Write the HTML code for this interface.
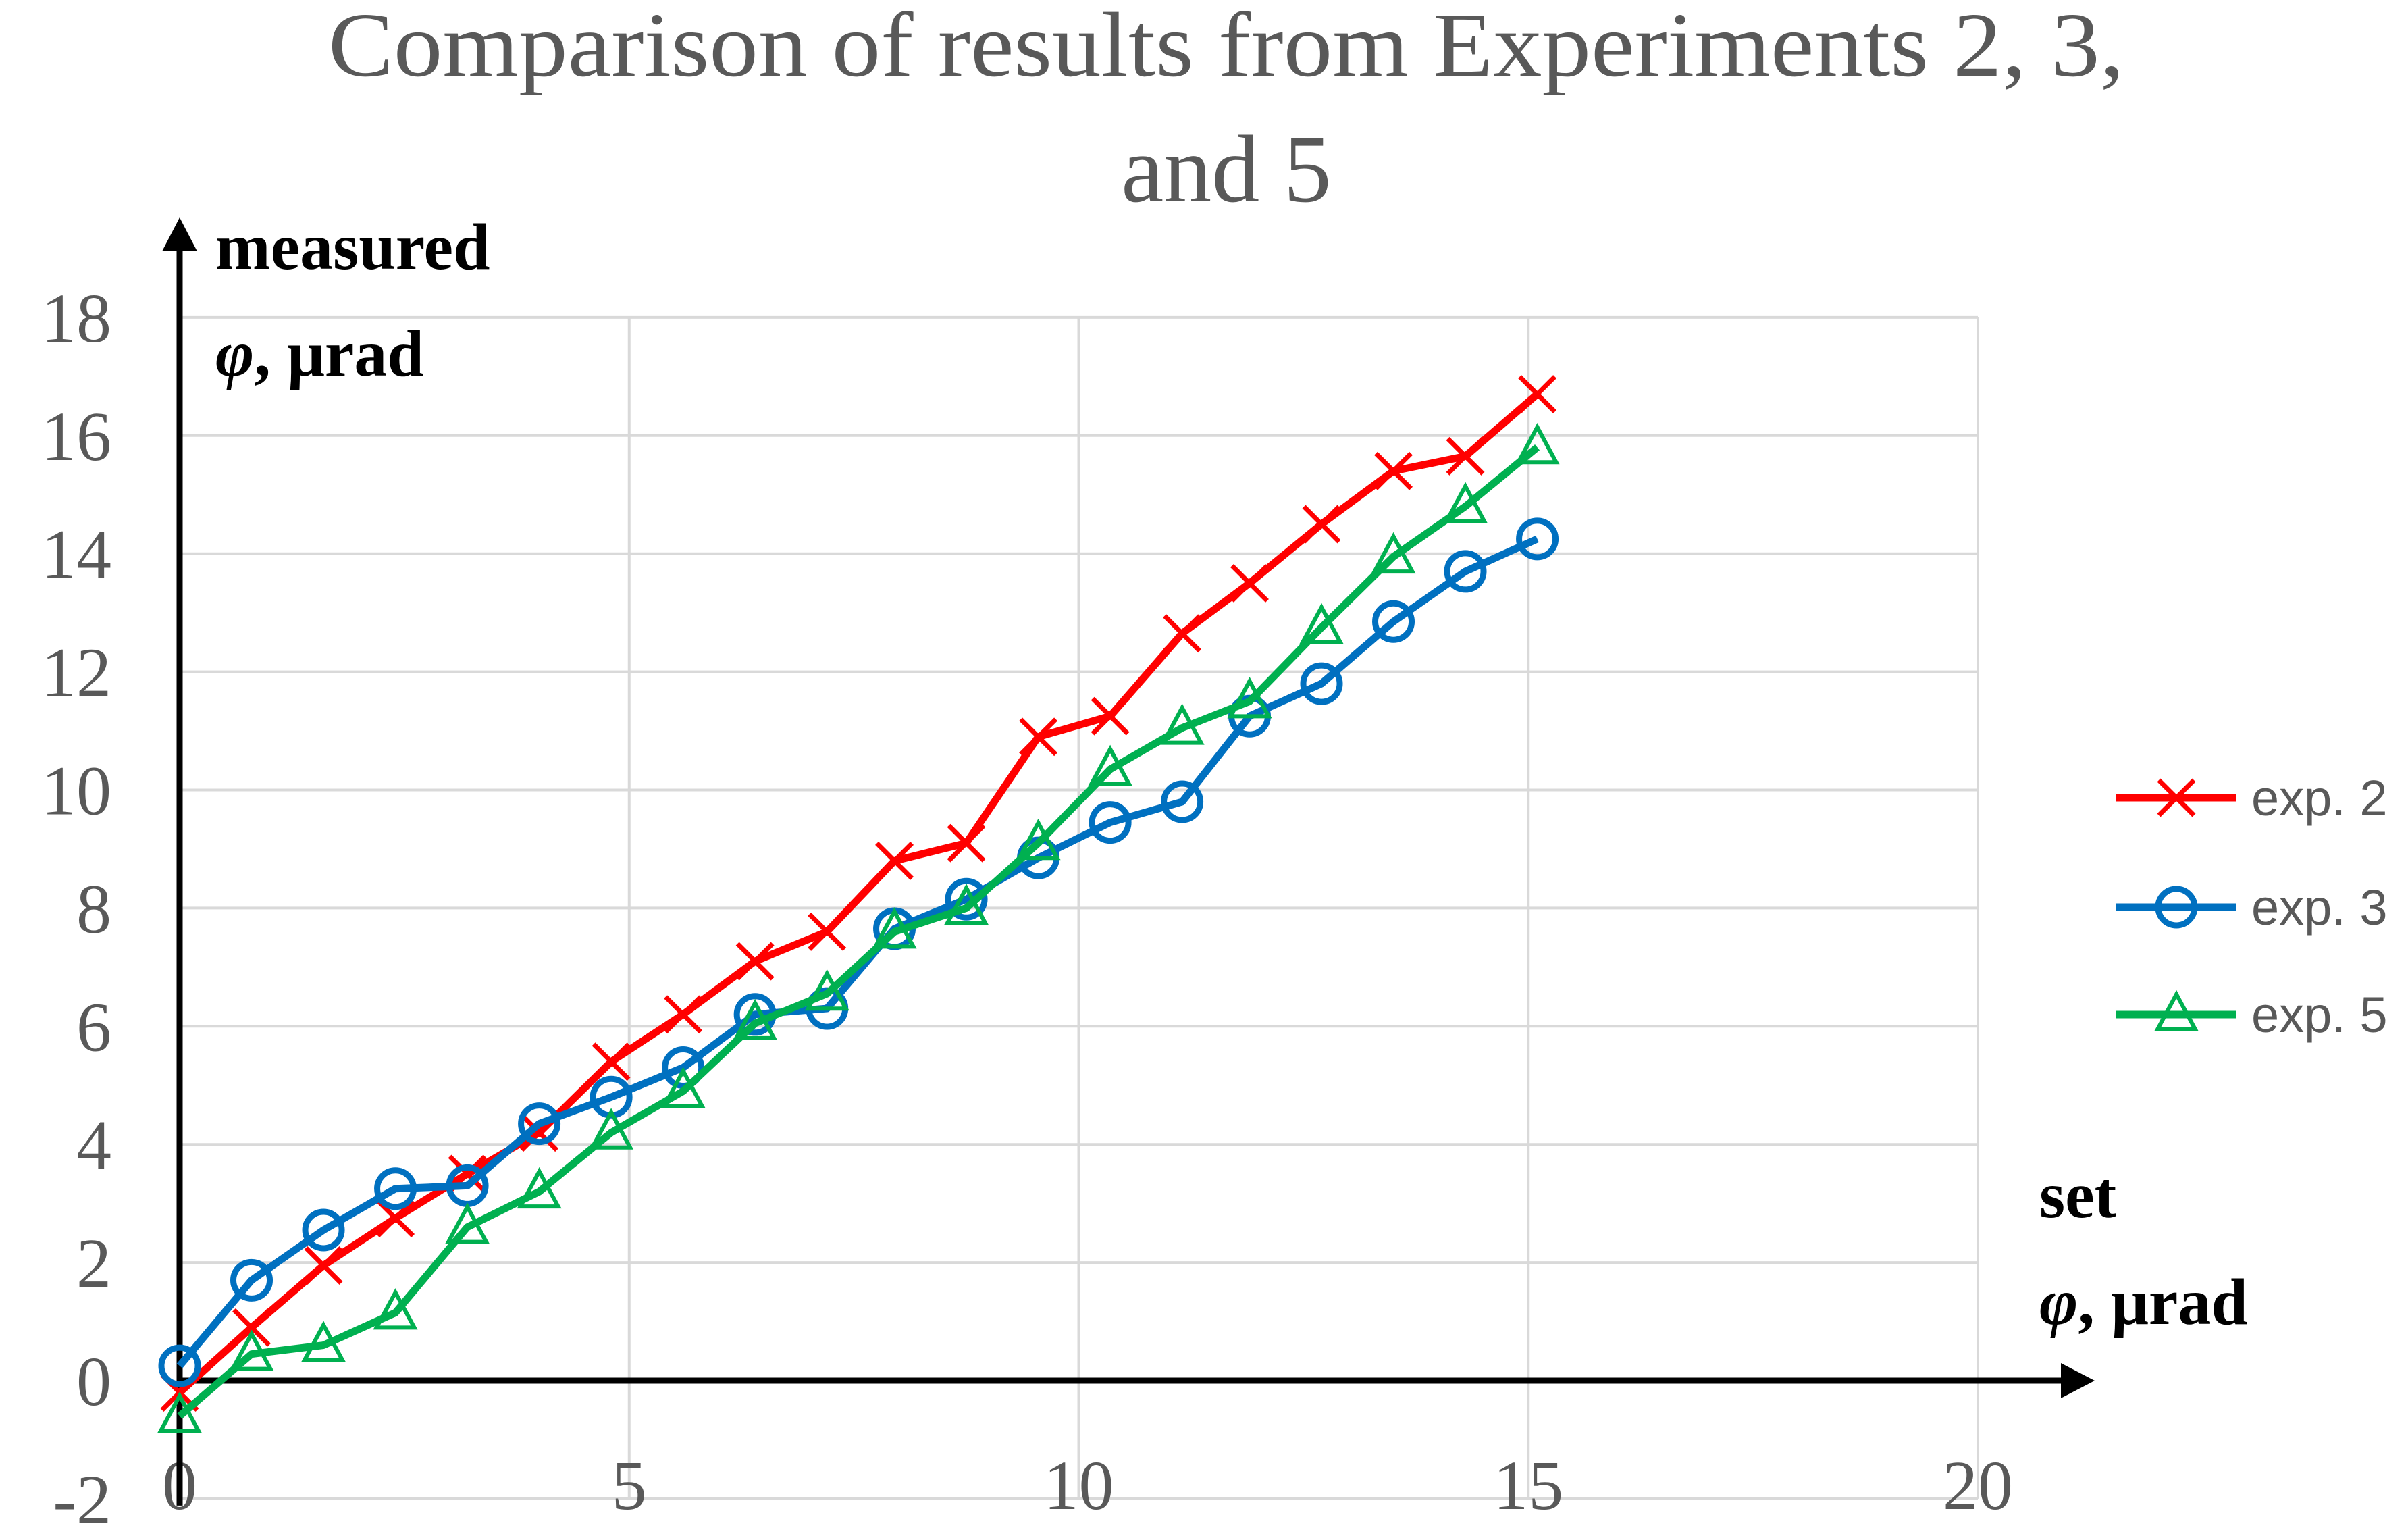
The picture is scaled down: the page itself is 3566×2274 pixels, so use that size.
<!DOCTYPE html>
<html><head><meta charset="utf-8"><style>
html,body{margin:0;padding:0;background:#fff}
svg{display:block}
</style></head><body>
<svg id="chart" width="3566" height="2274" viewBox="0 0 3566 2274" xmlns="http://www.w3.org/2000/svg">
<rect width="3566" height="2274" fill="#fff"/>
<text x="1816" y="112" text-anchor="middle" font-family="Liberation Serif, serif" font-size="136" fill="#595959" textLength="2660" lengthAdjust="spacingAndGlyphs">Comparison of results from Experiments 2, 3,</text>
<text x="1816" y="298" text-anchor="middle" font-family="Liberation Serif, serif" font-size="142" fill="#595959">and 5</text>
<g id="grid"></g>
<g id="ticks"></g>
<g id="axes"></g>
<g id="series"></g>
<text x="319" y="398" font-family="Liberation Serif, serif" font-weight="bold" font-size="98" fill="#000">measured</text>
<text x="319" y="556" font-family="Liberation Serif, serif" font-weight="bold" font-size="98" fill="#000"><tspan font-style="italic">φ</tspan>, μrad</text>
<text x="3020" y="1802" font-family="Liberation Serif, serif" font-weight="bold" font-size="98" fill="#000">set</text>
<text x="3020" y="1960" font-family="Liberation Serif, serif" font-weight="bold" font-size="98" fill="#000"><tspan font-style="italic">φ</tspan>, μrad</text>
<g id="legend"></g>
</svg>
<script>
const xValues = [0,0.8,1.6,2.4,3.2,4.0,4.8,5.6,6.4,7.2,7.95,8.75,9.55,10.35,11.15,11.9,12.7,13.5,14.3,15.1];
const exp2 = [-0.2,0.9,1.95,2.75,3.5,4.2,5.4,6.2,7.1,7.6,8.8,9.1,10.9,11.25,12.65,13.5,14.5,15.4,15.65,16.7];
const exp3 = [0.25,1.7,2.55,3.25,3.3,4.35,4.8,5.3,6.2,6.3,7.65,8.15,8.85,9.45,9.8,11.25,11.8,12.85,13.7,14.25];
const exp5 = [-0.6,0.45,0.6,1.15,2.6,3.2,4.2,4.9,6.05,6.55,7.6,8.0,9.1,10.35,11.05,11.5,12.75,13.95,14.8,15.8];
const xTicks = [0,5,10,15,20];
const yTicks = [-2,0,2,4,6,8,10,12,14,16,18];
const seriesNames = ["exp. 2","exp. 3","exp. 5"];

const NS="http://www.w3.org/2000/svg";
const X0=266, XU=133.15, Y0=2044, YU=87.45;
const sx=v=>X0+v*XU, sy=v=>Y0-v*YU;
function mk(tag,attrs,parent){const e=document.createElementNS(NS,tag);for(const k in attrs)e.setAttribute(k,attrs[k]);parent.appendChild(e);return e;}
const grid=document.getElementById('grid'), ticks=document.getElementById('ticks'), axes=document.getElementById('axes'), ser=document.getElementById('series'), leg=document.getElementById('legend');

yTicks.forEach(t=>{
  const l=mk('line',{x1:sx(0),x2:sx(20),y1:sy(t),y2:sy(t),stroke:'#d9d9d9','stroke-width':4},grid);
  
  
  const tx=mk('text',{x:165,y:sy(t)+36,'text-anchor':'end','font-family':'Liberation Serif, serif','font-size':104,fill:'#595959'},ticks);
  tx.textContent=t;
  
  
});
xTicks.forEach(t=>{
  if(t>0){const l=mk('line',{x1:sx(t),x2:sx(t),y1:sy(18),y2:sy(-2),stroke:'#d9d9d9','stroke-width':4},grid);
  
  }
  const tx=mk('text',{x:sx(t),y:2234,'text-anchor':'middle','font-family':'Liberation Serif, serif','font-size':104,fill:'#595959'},ticks);
  tx.textContent=t;
  
  
});
let a=mk('line',{x1:X0,x2:X0,y1:360,y2:sy(-2)+10,stroke:'#000','stroke-width':9},axes);


a=mk('polygon',{points:`${X0},322 ${X0-26},372 ${X0+26},372`,fill:'#000'},axes);


a=mk('line',{x1:X0,x2:3060,y1:Y0,y2:Y0,stroke:'#000','stroke-width':9},axes);


a=mk('polygon',{points:`3102,${Y0} 3052,${Y0-26} 3052,${Y0+26}`,fill:'#000'},axes);



function marker(kind,cx,cy,color,parent){
  let m;
  if(kind==='x'){m=mk('path',{d:`M${cx-26},${cy-26}L${cx+26},${cy+26}M${cx-26},${cy+26}L${cx+26},${cy-26}`,stroke:color,'stroke-width':7,fill:'none'},parent);}
  else if(kind==='o'){m=mk('circle',{cx:cx,cy:cy,r:27,stroke:color,'stroke-width':9,fill:'none'},parent);}
  else {m=mk('polygon',{points:`${cx},${cy-30} ${cx-28},${cy+22} ${cx+28},${cy+22}`,stroke:color,'stroke-width':6,fill:'none'},parent);}
  return m;
}
const allSeries=[[exp2,'#ff0000','x','exp2'],[exp3,'#0070c0','o','exp3'],[exp5,'#00b050','t','exp5']];
allSeries.forEach(([data,color,kind,nm])=>{
  const g=mk('g',{},ser);
  
  
  const pl=mk('polyline',{points:data.map((v,i)=>sx(xValues[i])+','+sy(v)).join(' '),fill:'none',stroke:color,'stroke-width':11,'stroke-linejoin':'round'},g);
  
  
  data.forEach((v,i)=>{
    const m=marker(kind,sx(xValues[i]),sy(v),color,g);
    
    
  });
});
const legY=[1181,1343,1502];
allSeries.forEach(([data,color,kind,nm],i)=>{
  const g=mk('g',{},leg);
  
  
  mk('line',{x1:3134,x2:3312,y1:legY[i],y2:legY[i],stroke:color,'stroke-width':11},g);
  marker(kind,3223,legY[i],color,g);
  const t=mk('text',{x:3334,y:legY[i]+26,'font-family':'Liberation Sans, sans-serif','font-size':74,fill:'#595959'},g);
  t.textContent=seriesNames[i];
});
</script>
</body></html>
